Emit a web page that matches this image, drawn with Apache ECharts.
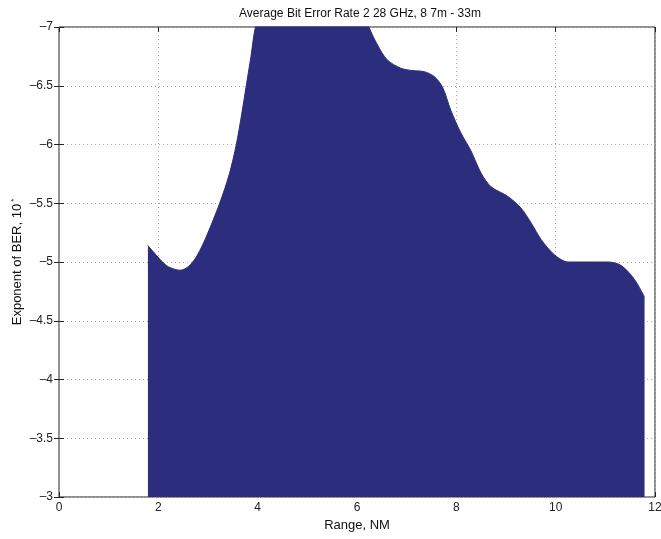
<!DOCTYPE html>
<html>
<head>
<meta charset="utf-8">
<script src="https://cdn.jsdelivr.net/npm/echarts@6/dist/echarts.min.js"></script>
<style>html,body{margin:0;padding:0;background:#fff}#c{width:661px;height:539px}</style>
</head>
<body>
<div id="c"></div>
<script>
const titleText = 'Average Bit Error Rate 2 28 GHz, 8 7m - 33m';
const xName = 'Range, NM';
const yName = 'Exponent of BER, 10';
const ySup = '*';
const rangeNM = [1.79, 2.04, 2.2, 2.44, 2.6, 2.76, 2.95, 3.235, 3.43, 3.57, 3.675, 3.77, 3.865, 3.956, 4.3, 4.8, 5.3, 5.8, 6.24, 6.41, 6.61, 6.88, 7.1, 7.35, 7.55, 7.72, 7.89, 8.09, 8.29, 8.5, 8.7, 9.03, 9.3, 9.51, 9.71, 9.98, 10.25, 10.65, 11.05, 11.32, 11.59, 11.79];
const berExp = [-5.14, -5.02, -4.96, -4.93, -4.96, -5.04, -5.2, -5.5, -5.75, -6.0, -6.25, -6.5, -6.75, -7.0, -7.5, -7.8, -7.8, -7.5, -7.0, -6.85, -6.72, -6.65, -6.63, -6.62, -6.58, -6.49, -6.29, -6.1, -5.95, -5.755, -5.64, -5.56, -5.46, -5.33, -5.19, -5.06, -5.0, -5.0, -5.0, -4.97, -4.85, -4.7];

const data = rangeNM.map((x, i) => [x, berExp[i]]);
const font = 'Liberation Sans';
const fmtNum = v => String(v).replace('-', '\u2013');

const chart = echarts.init(document.getElementById('c'), null, {renderer: 'canvas'});
chart.setOption({
  animation: false,
  backgroundColor: '#fff',
  title: {
    text: titleText,
    left: 355, top: 3, textAlign: 'center',
    textStyle: {fontFamily: font, fontSize: 12, fontWeight: 'normal', color: '#111'}
  },
  grid: {left: 59, right: 6, top: 27, bottom: 42, outerBoundsMode: 'none', containLabel: false,
    show: true, borderColor: '#222', borderWidth: 1, backgroundColor: 'transparent'},
  xAxis: [{
    type: 'value', min: 0, max: 12, interval: 2,
    name: xName, nameLocation: 'middle', nameGap: 20,
    nameTextStyle: {fontFamily: font, fontSize: 13, color: '#111'},
    axisLine: {show: false},
    axisTick: {show: true, inside: true, length: 5, lineStyle: {color: '#222'}},
    axisLabel: {fontFamily: font, fontSize: 12, color: '#222', margin: 5},
    splitLine: {show: true, lineStyle: {type: [1, 3], color: '#aaa', width: 1}}
  }, {
    type: 'value', min: 0, max: 12, interval: 2, position: 'top',
    axisLine: {show: false},
    axisTick: {show: true, inside: true, length: 5, lineStyle: {color: '#222'}},
    axisLabel: {show: false}, splitLine: {show: false}
  }],
  yAxis: [{
    type: 'value', min: -7, max: -3, interval: 0.5, inverse: true,
    name: '{n|' + yName + '}{s|' + ySup + '}', nameLocation: 'middle', nameGap: 35, nameRotate: 90,
    nameMoveOverlap: false,
    nameTextStyle: {fontFamily: font, fontSize: 13, color: '#111',
      rich: {
        n: {fontFamily: font, fontSize: 13, color: '#111'},
        s: {fontFamily: font, fontSize: 8, color: '#111', verticalAlign: 'top', padding: [0, 0, 6, 2]}
      }},
    axisLine: {show: false},
    axisTick: {show: true, inside: true, length: 5, lineStyle: {color: '#222'}},
    axisLabel: {fontFamily: font, fontSize: 12, color: '#222', margin: 6, formatter: fmtNum},
    splitLine: {show: true, lineStyle: {type: [1, 3], color: '#aaa', width: 1}}
  }, {
    type: 'value', min: -7, max: -3, interval: 0.5, inverse: true, position: 'right',
    axisLine: {show: false},
    axisTick: {show: true, inside: true, length: 5, lineStyle: {color: '#222'}},
    axisLabel: {show: false}, splitLine: {show: false}
  }],
  series: [{
    type: 'line',
    data: data,
    smooth: 0.3,
    symbol: 'none',
    clip: true,
    lineStyle: {color: '#2c2d7c', width: 1},
    areaStyle: {color: '#2c2d7c', opacity: 1, origin: 'end'},
    z: 3
  }]
});
</script>
</body>
</html>
